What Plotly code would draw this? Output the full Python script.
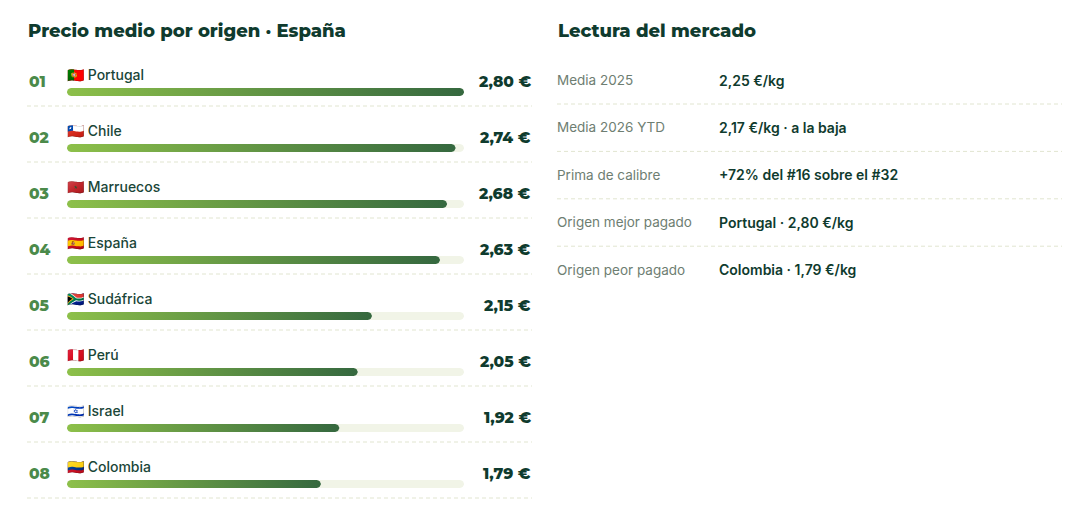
import numpy as np
import plotly.graph_objects as go

# --------------------------------- data ---------------------------------
ranks = ["01", "02", "03", "04", "05", "06", "07", "08"]
flags = ["🇵🇹", "🇨🇱", "🇲🇦", "🇪🇸", "🇿🇦", "🇵🇪", "🇮🇱", "🇨🇴"]
origins = ["Portugal", "Chile", "Marruecos", "España", "Sudáfrica", "Perú", "Israel", "Colombia"]
prices = [2.80, 2.74, 2.68, 2.63, 2.15, 2.05, 1.92, 1.79]
price_labels = ["2,80 €", "2,74 €", "2,68 €", "2,63 €", "2,15 €", "2,05 €", "1,92 €", "1,79 €"]

market_labels = ["Media 2025", "Media 2026 YTD", "Prima de calibre", "Origen mejor pagado", "Origen peor pagado"]
market_values = ["2,25 €/kg", "2,17 €/kg · a la baja", "+72% del #16 sobre el #32", "Portugal · 2,80 €/kg", "Colombia · 1,79 €/kg"]

# --------------------------------- layout helpers ---------------------------------
W, H = 1077, 515
PAGE = 8  # page margin around the plot div
TRACK_X0, TRACK_X1 = 67, 464
ROW0, ROW_STEP = 92, 56
BAR_H = 8
xmax = max(prices)

DARK = "#0f3b2e"
GREEN_NUM = "#4b8a4a"
SEP = "#e1e5d0"
TRACK = "#f1f4e7"
GRAD = [[0, "#8dc04a"], [1, "#35683f"]]

HEAD = "Montserrat, Lato, sans-serif"
BODY = "Inter, Roboto, sans-serif"


def px(x):
    return (x - PAGE) / W


def py(y):
    return 1 - (y - PAGE) / H


def rounded_bar(x0, x1, yc):
    # rounded rectangle in data units (x = price, y = row index)
    rx = (BAR_H / 2) * xmax / (TRACK_X1 - TRACK_X0)
    ry = (BAR_H / 2) / ROW_STEP
    t = np.linspace(0, np.pi, 12)
    right_x = x1 - rx + rx * np.sin(t)
    right_y = yc - ry * np.cos(t)
    left_x = x0 + rx - rx * np.sin(t)
    left_y = yc + ry * np.cos(t)
    xs = np.concatenate([right_x, left_x, right_x[:1]])
    ys = np.concatenate([right_y, left_y, right_y[:1]])
    return xs, ys


fig = go.Figure()

for i, price in enumerate(prices):
    xs, ys = rounded_bar(0, xmax, i)
    fig.add_trace(go.Scatter(x=xs, y=ys, fill="toself", fillcolor=TRACK, mode="lines",
                             line=dict(width=0), hoverinfo="skip", showlegend=False))
    xs, ys = rounded_bar(0, price, i)
    fig.add_trace(go.Scatter(x=xs, y=ys, fill="toself", mode="lines", line=dict(width=0),
                             fillgradient=dict(type="horizontal", colorscale=GRAD),
                             name=origins[i], hovertemplate=f"{origins[i]}: {price_labels[i]}<extra></extra>",
                             showlegend=False))

    fig.add_annotation(x=px(27), xref="paper", y=i - 11 / ROW_STEP, yref="y", text=ranks[i],
                       xanchor="left", yanchor="middle", showarrow=False,
                       font=dict(family=HEAD, size=15.5, color=GREEN_NUM, weight=800))
    fig.add_annotation(x=0, xref="x", y=i - 18 / ROW_STEP, yref="y", text=f"{flags[i]} {origins[i]}",
                       xanchor="left", yanchor="middle", showarrow=False, xshift=-2,
                       font=dict(family=BODY, size=14, color="#1a4638", weight=500))
    fig.add_annotation(x=px(533), xref="paper", y=i - 11 / ROW_STEP, yref="y", text=price_labels[i],
                       xanchor="right", yanchor="middle", showarrow=False,
                       font=dict(family=HEAD, size=15.5, color=DARK, weight=800))
    fig.add_shape(type="line", xref="paper", yref="y", x0=px(27), x1=px(532),
                  y0=i + 14 / ROW_STEP, y1=i + 14 / ROW_STEP,
                  line=dict(color=SEP, width=1, dash="4px,3px"))

# titles
fig.add_annotation(x=px(26), y=py(31), xref="paper", yref="paper", text="Precio medio por origen · España",
                   xanchor="left", yanchor="middle", showarrow=False,
                   font=dict(family=HEAD, size=18, color=DARK, weight=800))
fig.add_annotation(x=px(556), y=py(31), xref="paper", yref="paper", text="Lectura del mercado",
                   xanchor="left", yanchor="middle", showarrow=False,
                   font=dict(family=HEAD, size=18, color=DARK, weight=800))

# market summary
M_ROW0, M_STEP = 80, 47.4
for j, (lab, val) in enumerate(zip(market_labels, market_values)):
    yc = M_ROW0 + j * M_STEP
    fig.add_annotation(x=px(555), y=py(yc), xref="paper", yref="paper", text=lab,
                       xanchor="left", yanchor="middle", showarrow=False,
                       font=dict(family=BODY, size=13.5, color="#6e7e72"))
    fig.add_annotation(x=px(717), y=py(yc), xref="paper", yref="paper", text=val,
                       xanchor="left", yanchor="middle", showarrow=False,
                       font=dict(family=BODY, size=14, color=DARK, weight=600))
    if j < len(market_labels) - 1:
        ys = py(yc + 24)
        fig.add_shape(type="line", xref="paper", yref="paper", x0=px(557), x1=px(1062), y0=ys, y1=ys,
                      line=dict(color=SEP, width=1, dash="4px,3px"))

top = (ROW0 - PAGE) / ROW_STEP
fig.update_xaxes(domain=[px(TRACK_X0), px(TRACK_X1)], range=[0, xmax], visible=False, fixedrange=True)
fig.update_yaxes(domain=[0, 1], range=[H / ROW_STEP - top, -top], visible=False, fixedrange=True)
fig.update_layout(width=W, height=H, margin=dict(l=0, r=0, t=0, b=0),
                  paper_bgcolor="white", plot_bgcolor="white", showlegend=False)

fig.write_html("out.html")
